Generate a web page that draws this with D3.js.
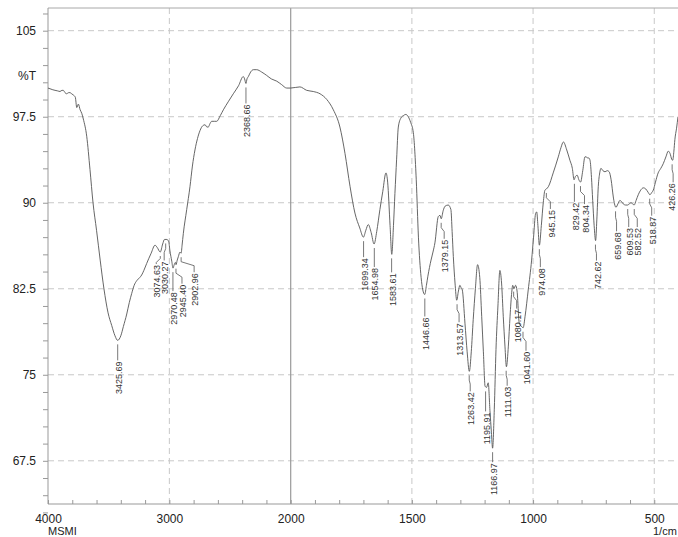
<!DOCTYPE html>
<html><head><meta charset="utf-8">
<script src="https://cdn.jsdelivr.net/npm/d3@7"></script>
<style>
html,body{margin:0;padding:0;background:#fff;}
svg{display:block;}
text{font-family:"Liberation Sans",Arial,sans-serif;}
</style></head>
<body>
<svg id="chart" width="678" height="537"></svg>
<script>
// ---- data ----
const wavenumbers = [4000,3960,3942,3920,3901,3885,3874,3860,3846,3830,3819,3805,3792,3775,3763,3750,3735,3722,3709,3681,3654,3629,3600,3570,3539,3505,3475,3448,3426,3400,3379,3351,3330,3310,3290,3269,3242,3228,3210,3187,3150,3118,3100,3075,3055,3040,3020,3005,2995,2980,2970,2960,2950,2945,2935,2926,2912,2903,2895,2885,2857,2830,2810,2789,2768,2747,2726,2706,2690,2679,2665,2651,2630,2610,2580,2555,2515,2473,2430,2391,2380,2369,2360,2349,2330,2308,2280,2240,2198,2160,2115,2075,2033,2000,
1962,1934,1907,1879,1851,1824,1797,1776,1755,1735,1715,1700,1690,1680,1668,1656,1645,1632,1620,1607,1600,1590,1583,1576,1570,1563,1556,1545,1535,1525,1515,1505,1494,1482,1473,1462,1455,1447,1440,1434,1421,1413,1405,1391,1384,1379,1371,1363,1350,1339,1334,1329,1322,1315,1308,1302,1297,1292,1281,1272,1263,1255,1247,1238,1229,1220,1212,1205,1198,1192,1185,1178,1172,1167,1160,1153,1145,1137,1130,1123,1116,1110,1102,1095,1088,1084,1079,1072,1066,1057,1047,1041,1033,1020,1006,998,990,985,980,974,966,958,951,945,937,917,896,885,875,861,848,838,831,825,818,811,804,795,786,780,776,770,765,759,754,748,742,737,731,725,720,712,703,694,686,678,669,664,658,650,642,635,628,618,610,603,596,589,583,575,566,556,545,535,525,518,510,504,495,484,473,463,452,442,435,428,424,419,415,408,402];
const transmittance = [100.0,99.85,99.8,99.75,99.7,99.8,99.8,99.6,99.5,99.6,99.6,99.5,99.4,99.2,98.3,98.6,98.1,97.8,97.3,95.8,92.9,90.0,87.6,85.0,82.5,80.4,79.3,78.4,78.0,78.4,79.2,80.3,81.3,82.1,82.8,83.2,83.5,83.7,84.1,84.7,85.6,86.3,86.1,85.7,86.4,86.8,86.8,86.6,85.8,84.9,84.3,84.6,84.8,84.6,85.0,85.3,85.7,85.6,86.3,87.3,89.4,91.4,93.2,94.6,95.6,96.3,96.7,96.8,96.6,96.6,96.9,97.1,97.1,97.1,97.6,98.1,98.8,99.5,100.2,101.0,100.8,100.4,100.8,101.0,101.4,101.6,101.6,101.4,101.1,100.8,100.6,100.3,100.0,100.0,
100.1,99.8,99.7,99.5,99.0,98.1,96.6,94.3,91.4,89.1,87.8,87.0,87.6,88.1,87.4,86.4,87.5,89.4,91.0,92.6,91.8,88.0,85.5,88.0,90.8,93.8,96.6,97.4,97.6,97.7,97.5,97.0,96.1,92.0,87.0,83.5,82.4,82.0,82.8,83.6,85.0,85.7,86.5,88.8,88.9,88.6,89.3,89.7,89.8,89.4,87.5,85.3,83.0,81.5,82.3,82.8,82.6,82.4,79.5,77.0,75.3,77.0,79.8,82.5,84.6,83.5,80.1,77.0,74.0,73.9,74.3,71.9,70.0,68.6,72.0,77.2,81.0,84.1,83.0,80.1,77.5,75.7,77.5,80.1,82.2,82.8,82.5,82.8,82.3,79.5,79.2,79.1,80.1,82.4,85.0,87.0,89.0,89.2,88.0,86.3,88.0,90.0,91.1,91.2,91.4,92.6,94.0,94.8,95.3,94.6,93.7,93.0,92.0,92.3,92.4,92.0,91.8,92.8,94.0,94.0,93.9,93.9,93.7,92.2,90.2,88.0,86.7,88.5,91.4,92.6,93.0,92.8,92.7,92.8,92.7,92.0,90.5,89.9,89.6,89.9,90.2,90.1,89.9,89.8,89.8,89.9,90.0,89.9,89.8,90.2,90.7,91.1,91.3,91.2,90.9,90.7,90.9,91.1,91.8,92.6,93.0,93.4,94.0,94.5,94.3,93.8,93.7,94.5,95.5,96.5,97.5];

const peakWavenumbers = [3425.69,3074.63,3030.27,2970.48,2945.40,2902.96,2368.66,1699.34,1654.98,1583.61,1446.66,1379.15,1313.57,1263.42,1195.91,1166.97,1111.03,1080.17,1041.60,974.08,945.15,829.42,804.34,742.62,659.68,609.53,582.52,518.87,426.26];
const peakValues = [78.0,85.7,86.8,84.3,84.6,85.6,100.4,87.0,86.4,85.5,82.0,88.6,81.5,75.3,73.9,68.6,75.7,82.6,79.1,86.3,91.2,92.0,91.8,86.7,89.6,89.8,89.8,90.7,93.7];

const xMajorTicks = [4000,3000,2000,1500,1000,500];
const yMajorTicks = [67.5,75,82.5,90,97.5,105];
const yTickLabels = ["67.5","75","82.5","90","97.5","105"];

// ---- layout (label placement offsets, pixels) ----
const labelDx   = [0,-4,-1.5,0,6,13,0,0,0,0,0,3,2,1,0,0,1,3,3,1,4,0,4,1,1,1,3,2,1];
const labelDrop = [21,13,22,24,20,20,21,21,24,19,23,21,23,21,25,15,20,22,24,23,21,23,23,21,25,23,23,22,23];

const W = 678, H = 537;
const L = 48, T = 8, B = 504;
const svg = d3.select("#chart");

const x = d3.scaleLinear().domain([4000, 2000, 400]).range([48, 290.7, 678.5]);
const y = d3.scaleLinear().domain([67.5, 105]).range([460.8, 30.7]);

// grid
const grid = svg.append("g");
grid.selectAll("line.h").data(yMajorTicks).join("line")
  .attr("x1", L).attr("x2", W).attr("y1", d => y(d)).attr("y2", d => y(d))
  .attr("stroke", "#c8c8c8").attr("stroke-width", 1).attr("stroke-dasharray", "6,4");
grid.selectAll("line.v").data([3000,1500,1000,500]).join("line")
  .attr("x1", d => x(d)).attr("x2", d => x(d)).attr("y1", T).attr("y2", B)
  .attr("stroke", "#c8c8c8").attr("stroke-width", 1).attr("stroke-dasharray", "6,4");
grid.append("line").attr("x1", x(2000)).attr("x2", x(2000)).attr("y1", T).attr("y2", B)
  .attr("stroke", "#9a9a9a").attr("stroke-width", 1.2);

// frame
svg.append("line").attr("x1", L).attr("x2", W).attr("y1", T).attr("y2", T).attr("stroke", "#a8a8a8");
svg.append("line").attr("x1", L).attr("x2", L).attr("y1", T).attr("y2", B).attr("stroke", "#999");
svg.append("line").attr("x1", L).attr("x2", W).attr("y1", B).attr("y2", B).attr("stroke", "#999");

// x minor ticks
const xMinor = d3.range(4000, 2000, -200).concat(d3.range(2000, 399, -100));
svg.append("g").attr("transform", `translate(0,${B})`)
  .call(d3.axisBottom(x).tickValues(xMinor).tickSize(-4).tickFormat(""))
  .call(g => g.select(".domain").remove())
  .call(g => g.selectAll(".tick line").attr("stroke", "#999"));
// x labels
svg.append("g").attr("transform", `translate(0,${B})`)
  .call(d3.axisBottom(x).tickValues(xMajorTicks).tickSize(0).tickPadding(10).tickFormat(d3.format("d")))
  .call(g => g.select(".domain").remove())
  .call(g => g.selectAll(".tick text").attr("font-size", 12).attr("fill", "#222").attr("font-family", "Liberation Sans, Arial, sans-serif"));

// y ticks
const yMinor = d3.range(0, 30).map(k => (630 + 15 * k) / 10);
svg.append("g").attr("transform", `translate(${L},0)`)
  .call(d3.axisLeft(y).tickValues(yMinor).tickSize(5).tickFormat(""))
  .call(g => g.select(".domain").remove())
  .call(g => g.selectAll(".tick line").attr("stroke", "#999"));
svg.append("g").attr("transform", `translate(${L},0)`)
  .call(d3.axisLeft(y).tickValues(yMajorTicks).tickSize(0).tickPadding(12)
    .tickFormat((d, i) => yTickLabels[i]))
  .call(g => g.select(".domain").remove())
  .call(g => g.selectAll(".tick text").attr("font-size", 12).attr("fill", "#222").attr("font-family", "Liberation Sans, Arial, sans-serif"));

svg.append("text").attr("x", 36).attr("y", 80).attr("text-anchor", "end")
  .attr("font-size", 12).attr("fill", "#222").text("%T");
svg.append("text").attr("x", 48).attr("y", 534.5).attr("font-size", 11).attr("fill", "#222").text("MSMI");
svg.append("text").attr("x", 653).attr("y", 534.5).attr("font-size", 11).attr("fill", "#222").text("1/cm");

// spectrum
const pts = wavenumbers.map((w, i) => [w, transmittance[i]]);
svg.append("path").datum(pts)
  .attr("d", d3.line().x(d => x(d[0])).y(d => y(d[1])).curve(d3.curveMonotoneX))
  .attr("fill", "none").attr("stroke", "#555").attr("stroke-width", 0.9);

// peak labels
const peaks = peakWavenumbers.map((w, i) => ({w, v: peakValues[i], dx: labelDx[i], drop: labelDrop[i]}));
const pg = svg.append("g");
peaks.forEach(p => {
  const px = x(p.w), py = y(p.v);
  const top = py + p.drop;
  const y0 = py + 4;
  let pathPts;
  if (p.dx === 0) pathPts = [[px, y0], [px, top - 1]];
  else {
    const m = y0 + Math.max(2, (top - 1 - y0) * 0.3);
    const m2 = Math.min(top - 2, m + 4);
    pathPts = [[px, y0], [px, m], [px + p.dx, m2], [px + p.dx, top - 1]];
  }
  if (top - 1 > y0) {
    pg.append("path").attr("d", d3.line()(pathPts))
      .attr("fill", "none").attr("stroke", "#555").attr("stroke-width", 0.8);
  }
  pg.append("text")
    .attr("transform", `translate(${Math.min(px + p.dx + 1, 672)},${top}) rotate(-90)`)
    .attr("text-anchor", "end").attr("dy", "0.35em")
    .attr("font-size", 9).attr("fill", "#333")
    .attr("font-family", "'Liberation Sans Narrow','Arial Narrow','Liberation Sans',sans-serif")
    .text(p.w.toFixed(2));
});
</script>
</body></html>
